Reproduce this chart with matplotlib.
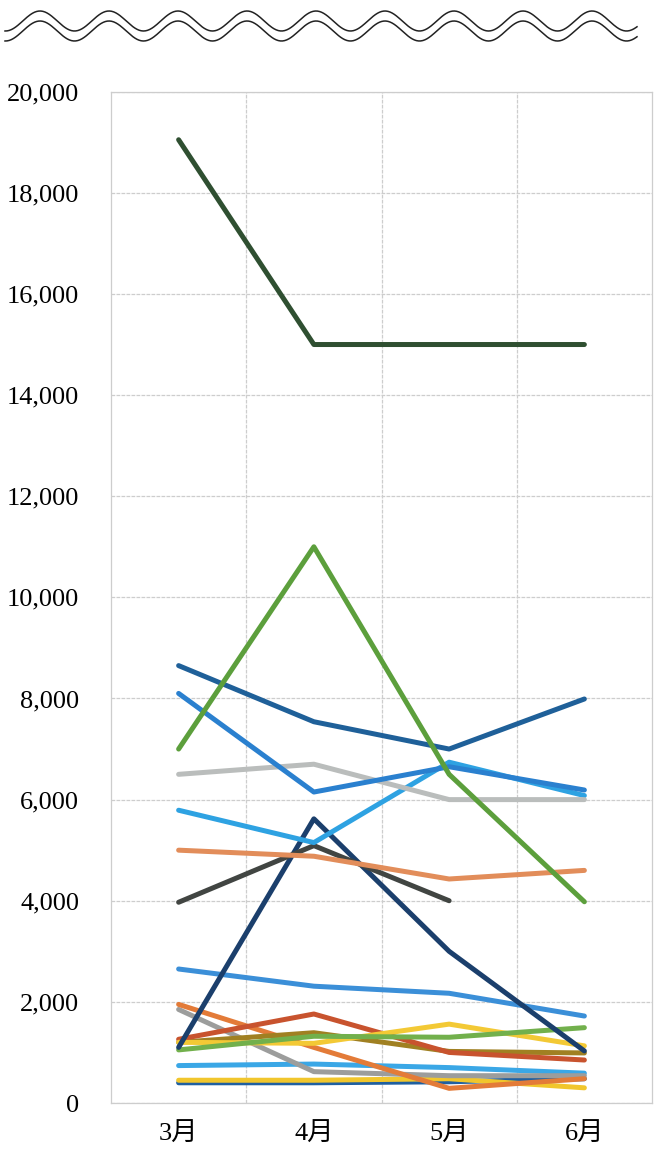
import numpy as np
import matplotlib
matplotlib.use("Agg")
from matplotlib import pyplot as plt

plt.rcParams['font.family'] = ['Liberation Serif', 'Noto Sans CJK JP']

months = ["3月", "4月", "5月", "6月"]
yticks = [0, 2000, 4000, 6000, 8000, 10000, 12000, 14000, 16000, 18000, 20000]

# one list per line, drawn in this order (bottom first)
navyBas = [400, 400, 420, 480]
jauneBas = [450, 450, 480, 300]
bleuCiel = [740, 770, 700, 590]
gris = [1850, 620, 540, 540]
orange = [1950, 1100, 290, 480]
olive = [1200, 1390, 1020, 990]
rouge = [1260, 1760, 1000, 850]
jaune = [1200, 1180, 1560, 1130]
vertClair = [1050, 1320, 1300, 1490]
bleu2650 = [2650, 2310, 2170, 1720]
marine = [1100, 5620, 3000, 1030]
noir = [3970, 5090, 4000]
orange5000 = [5000, 4880, 4430, 4600]
bleuCiel5800 = [5790, 5150, 6740, 6080]
grisClair = [6500, 6700, 6000, 6000]
bleu8100 = [8100, 6150, 6650, 6190]
bleu8650 = [8650, 7540, 7000, 7990]
vert = [7000, 11000, 6500, 3980]
vertFonce = [19050, 15000, 15000, 15000]

series = [
	(navyBas, "#1f5fa0"),
	(jauneBas, "#f1c62c"),
	(bleuCiel, "#3aa7e6"),
	(gris, "#9c9d9c"),
	(orange, "#e37b38"),
	(olive, "#a08022"),
	(rouge, "#c8532e"),
	(jaune, "#f3c935"),
	(vertClair, "#72b04c"),
	(bleu2650, "#3b8fd8"),
	(marine, "#1b3f6c"),
	(noir, "#414542"),
	(orange5000, "#e28d5a"),
	(bleuCiel5800, "#2ea2e2"),
	(grisClair, "#babdbc"),
	(bleu8100, "#2a80cf"),
	(bleu8650, "#1f6099"),
	(vert, "#5c9f3c"),
	(vertFonce, "#2f4f31"),
]

fig = plt.figure(figsize=(6.66, 11.5), dpi=100)
ax = fig.add_axes([111 / 666, 1 - 1103 / 1150, 541 / 666, (1103 - 91.7) / 1150])

for valeurs, couleur in series:
	ax.plot(range(len(valeurs)), valeurs, color=couleur, lw=3.6, solid_capstyle="round", solid_joinstyle="round", zorder=3)

ax.set_xlim(-0.5, 3.5)
ax.set_ylim(0, 20000)
ax.set_xticks(range(len(months)))
ax.set_xticklabels(months, fontsize=19)
ax.set_yticks(yticks)
ax.set_yticklabels([f"{v:,}" for v in yticks], fontsize=19)
ax.tick_params(axis="y", length=0, pad=23)
ax.tick_params(axis="x", length=0, pad=14)

ax.set_xticks([0.5, 1.5, 2.5], minor=True)
ax.tick_params(which="minor", length=0)
ax.grid(True, axis="y", color="#cdcdcd", lw=0.9, ls=(0, (3, 1)))
ax.grid(True, axis="x", which="minor", color="#cdcdcd", lw=0.9, ls=(0, (3, 1)))
for s in ax.spines.values():
	s.set_color("#cdcdcd")
	s.set_linewidth(0.9)

# double vague en haut de la page
x = np.linspace(5, 637, 600)
for centre in (21, 31):
	y = centre - 10 * np.cos(2 * np.pi * (x - 40) / 69)
	fig.add_artist(plt.Line2D(x / 666, 1 - y / 1150, color="#222222", lw=1.1))

fig.savefig("out.png", dpi=100)
